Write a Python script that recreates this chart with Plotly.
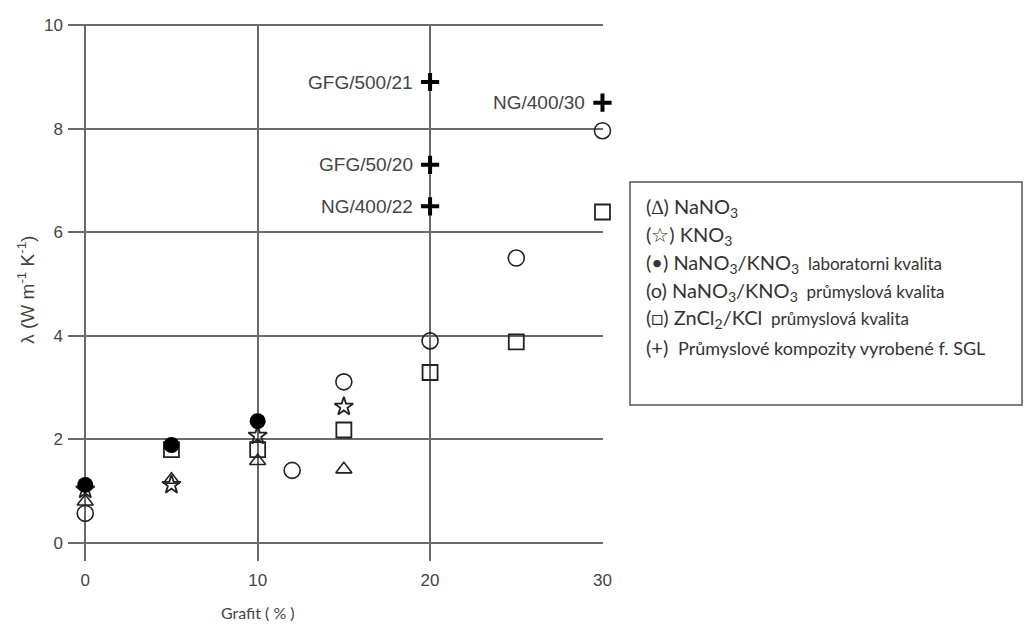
import plotly.graph_objects as go

# ---- data ----
x_tri = [0, 5, 10, 15]
y_tri = [0.80, 1.22, 1.58, 1.42]

x_star = [0, 5, 10, 15]
y_star = [1.03, 1.12, 2.07, 2.63]

x_fill = [0, 5, 10]
y_fill = [1.12, 1.89, 2.35]

x_open = [0, 12, 15, 20, 25, 30]
y_open = [0.57, 1.40, 3.11, 3.90, 5.50, 7.96]

x_sq = [5, 10, 15, 20, 25, 30]
y_sq = [1.80, 1.80, 2.18, 3.29, 3.88, 6.39]

x_plus = [20, 30, 20, 20]
y_plus = [8.90, 8.50, 7.30, 6.50]
lbl_plus = ["GFG/500/21", "NG/400/30", "GFG/50/20", "NG/400/22"]

x_ticks = [0, 10, 20, 30]
y_ticks = [0, 2, 4, 6, 8, 10]

legend_main = ["(∆) NaNO<sub>3</sub>",
               "(☆) KNO<sub>3</sub>",
               "(•) NaNO<sub>3</sub>/KNO<sub>3</sub>",
               "(o) NaNO<sub>3</sub>/KNO<sub>3</sub>",
               "(□) ZnCl<sub>2</sub>/KCl",
               "(+) "]
legend_suffix = ["", "", "  laboratorni kvalita", "  průmyslová kvalita",
                 "  průmyslová kvalita", " Průmyslové kompozity vyrobené f. SGL"]

MK = "#222222"
GRID = "#6a6a6a"

fig = go.Figure()
fig.add_trace(go.Scatter(x=x_open, y=y_open, mode="markers", cliponaxis=False,
                         marker=dict(symbol="circle-open", size=16, color=MK, line=dict(width=1.6, color=MK))))
fig.add_trace(go.Scatter(x=x_sq, y=y_sq, mode="markers", cliponaxis=False,
                         marker=dict(symbol="square-open", size=15, color=MK, line=dict(width=1.8, color=MK))))
fig.add_trace(go.Scatter(x=x_tri, y=y_tri, mode="markers", cliponaxis=False,
                         marker=dict(symbol="triangle-up-open", size=14, color=MK, line=dict(width=1.6, color=MK))))
fig.add_trace(go.Scatter(x=x_star, y=y_star, mode="markers", cliponaxis=False,
                         marker=dict(symbol="star-open", size=14, color=MK, line=dict(width=1.8, color=MK))))
fig.add_trace(go.Scatter(x=x_fill, y=y_fill, mode="markers", cliponaxis=False,
                         marker=dict(symbol="circle", size=16, color="#000000", line=dict(width=0))))
fig.add_trace(go.Scatter(x=x_plus, y=y_plus, mode="markers", cliponaxis=False,
                         marker=dict(symbol="cross-thin", size=13, color="#000000",
                                     line=dict(width=4, color="#000000"))))

annotations = []
for xv, yv, t in zip(x_plus, y_plus, lbl_plus):
    annotations.append(dict(x=xv, y=yv, xref="x", yref="y", text=t, showarrow=False,
                            xanchor="right", yanchor="middle", xshift=-15,
                            font=dict(family="Liberation Sans", size=19, color="#444444")))

# axis titles
annotations.append(dict(x=10, y=(561 - 612) / 537.0, xref="x", yref="paper", text="Grafit ( % )",
                        showarrow=False, xanchor="center", yanchor="middle",
                        font=dict(family="Lato", size=16, color="#444444")))
annotations.append(dict(x=-0.079, y=(561 - 290) / 537.0, xref="paper", yref="paper",
                        text="λ (W m<sup>-1</sup> K<sup>-1</sup>)", textangle=-90,
                        showarrow=False, xanchor="center", yanchor="middle",
                        font=dict(family="Liberation Sans", size=19, color="#444444")))

# legend box text
x_left = (644 - 68) / 535.0
y_rows_px = [207, 235, 263, 291, 319, 347]
for i, (main, suf, ypx) in enumerate(zip(legend_main, legend_suffix, y_rows_px)):
    fs = 18 if i == 5 else 17
    txt = main + (f"<span style='font-size:{fs}px'>{suf}</span>" if suf else "")
    annotations.append(dict(x=x_left, y=(561 - ypx) / 537.0, xref="paper", yref="paper",
                            text=txt, showarrow=False, xanchor="left", yanchor="middle",
                            font=dict(family="Lato", size=20, color="#333333")))

shapes = [dict(type="rect", xref="paper", yref="paper",
               x0=(630 - 68) / 535.0, x1=(1022 - 68) / 535.0,
               y0=(561 - 405) / 537.0, y1=(561 - 182) / 537.0,
               line=dict(color="#555555", width=1.5), fillcolor="rgba(0,0,0,0)")]

fig.update_layout(
    width=1025, height=625,
    margin=dict(l=68, r=422, t=24, b=64),
    paper_bgcolor="white", plot_bgcolor="white",
    showlegend=False,
    annotations=annotations,
    shapes=shapes,
    xaxis=dict(range=[-1, 30.03], tickmode="array", tickvals=x_ticks,
               showgrid=True, gridcolor=GRID, gridwidth=2, zeroline=False, showline=False,
               ticks="", ticklabelstandoff=7,
               tickfont=dict(family="Liberation Sans", size=17, color="#444444")),
    yaxis=dict(range=[-0.35, 10.02], tickmode="array", tickvals=y_ticks,
               showgrid=True, gridcolor=GRID, gridwidth=2, zeroline=False, showline=False,
               ticks="", ticklabelstandoff=4,
               tickfont=dict(family="Liberation Sans", size=17, color="#444444")),
)

fig.write_html("out.html")
